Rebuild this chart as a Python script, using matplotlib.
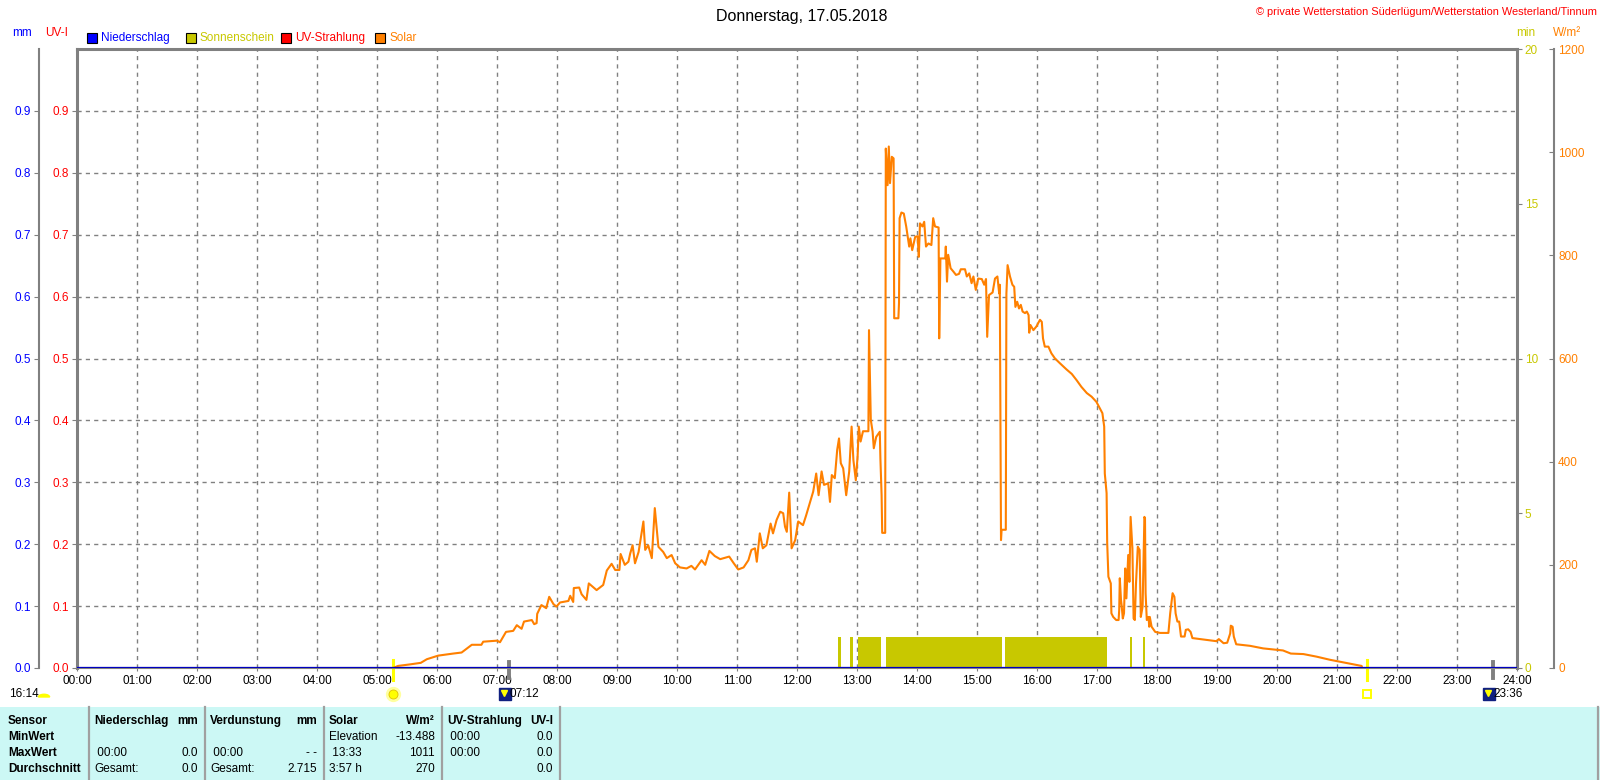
import numpy as np
import matplotlib.pyplot as plt
from matplotlib.patches import Rectangle, Wedge

plt.rcParams['font.family'] = ['Liberation Sans', 'DejaVu Sans']
plt.rcParams['font.size'] = 8.5

# --- data (time in hours) ---
solar_t = [5.27, 5.35, 5.55, 5.73, 5.83, 6.02, 6.27, 6.41, 6.58, 6.74, 6.77, 7.0, 7.05, 7.15, 7.27,
           7.33, 7.41, 7.45, 7.58, 7.62, 7.66, 7.67, 7.74, 7.82, 7.87, 7.94, 7.99, 8.05, 8.19, 8.22,
           8.27, 8.28, 8.37, 8.41, 8.49, 8.53, 8.66, 8.77, 8.83, 8.91, 8.97, 9.04, 9.06, 9.13, 9.19,
           9.22, 9.26, 9.30, 9.36, 9.44, 9.47, 9.52, 9.58, 9.63, 9.69, 9.77, 9.83, 9.91, 9.97, 10.05,
           10.16, 10.24, 10.30, 10.41, 10.47, 10.54, 10.63, 10.72, 10.87, 10.94, 11.02, 11.11, 11.19,
           11.24, 11.30, 11.33, 11.38, 11.43, 11.49, 11.56, 11.60, 11.66, 11.72, 11.77, 11.80, 11.83,
           11.87, 11.91, 11.97, 12.02, 12.10, 12.15, 12.22, 12.27, 12.32, 12.36, 12.41, 12.45, 12.52,
           12.55, 12.58, 12.63, 12.67, 12.70, 12.73, 12.77, 12.82, 12.87, 12.91, 12.94, 12.98, 13.01,
           13.03, 13.06, 13.10, 13.19, 13.20, 13.23, 13.26, 13.28, 13.32, 13.38, 13.39, 13.41, 13.42,
           13.47, 13.48, 13.51, 13.53, 13.55, 13.58, 13.61, 13.62, 13.69, 13.70, 13.71, 13.74, 13.78,
           13.82, 13.87, 13.89, 13.92, 13.97, 14.01, 14.03, 14.05, 14.09, 14.12, 14.15, 14.19, 14.24,
           14.27, 14.30, 14.36, 14.37, 14.39, 14.47, 14.48, 14.50, 14.52, 14.56, 14.61, 14.65, 14.70,
           14.73, 14.80, 14.83, 14.87, 14.91, 14.94, 14.98, 15.02, 15.08, 15.12, 15.15, 15.17, 15.20,
           15.26, 15.30, 15.34, 15.37, 15.38, 15.40, 15.41, 15.48, 15.49, 15.51, 15.55, 15.59, 15.62,
           15.64, 15.67, 15.70, 15.73, 15.76, 15.80, 15.83, 15.86, 15.87, 15.89, 15.94, 15.99, 16.05,
           16.08, 16.10, 16.13, 16.19, 16.24, 16.30, 16.38, 16.49, 16.58, 16.66, 16.74, 16.83, 16.91,
           16.99, 17.05, 17.09, 17.12, 17.13, 17.16, 17.17, 17.19, 17.23, 17.24, 17.27, 17.32, 17.36,
           17.37, 17.38, 17.40, 17.41, 17.43, 17.45, 17.47, 17.49, 17.52, 17.54, 17.56, 17.59, 17.61,
           17.63, 17.65, 17.68, 17.71, 17.73, 17.76, 17.79, 17.80, 17.81, 17.83, 17.86, 17.87, 17.88,
           17.91, 17.97, 18.05, 18.19, 18.22, 18.26, 18.29, 18.31, 18.34, 18.37, 18.40, 18.46, 18.48,
           18.52, 18.56, 18.59, 18.72, 18.99, 19.03, 19.11, 19.17, 19.22, 19.23, 19.26, 19.28, 19.32,
           19.55, 19.77, 20.10, 20.23, 20.44, 20.66, 20.88, 21.41, 21.42]
solar_w = [0, 4, 7, 10, 17, 24, 28, 30, 45, 45, 51, 53, 50, 70, 72,
           83, 76, 90, 93, 85, 87, 105, 122, 116, 138, 124, 119, 127, 130, 140,
           128, 155, 156, 143, 132, 164, 151, 161, 189, 202, 190, 190, 221, 200, 206,
           222, 238, 203, 225, 284, 229, 238, 213, 310, 235, 225, 213, 219, 203, 195,
           193, 198, 191, 209, 200, 227, 217, 211, 216, 204, 191, 195, 209,
           229, 232, 206, 261, 232, 238, 280, 261, 287, 303, 300, 274, 264,
           340, 232, 248, 284, 277, 295, 322, 342, 377, 335, 381, 355, 358,
           322, 374, 368, 423, 445, 397, 387, 335, 381, 468, 403, 364, 410,
           468, 439, 459, 459, 655, 481, 458, 426, 448, 458, 406, 335, 262,
           262, 1007, 936, 1011, 940, 991, 988, 678, 678, 708, 872, 883, 881,
           856, 817, 833, 810, 836, 837, 797, 862, 856, 865, 817, 823, 820,
           872, 856, 854, 639, 794, 794, 817, 749, 801, 775, 768, 762, 764,
           773, 773, 759, 765, 746, 759, 733, 755, 754, 743, 754, 642, 723,
           728, 755, 759, 726, 743, 248, 268, 268, 726, 781, 759, 743, 739,
           700, 710, 697, 704, 691, 688, 691, 684, 650, 665, 655, 662, 675,
           671, 639, 623, 623, 610, 600, 591, 579, 570, 558, 545, 533, 526,
           516, 503, 494, 468, 377, 339, 242, 177, 164, 106, 99, 93, 93,
           112, 174, 132, 122, 96, 106, 193, 135, 219, 167, 293, 232, 96,
           93, 164, 235, 229, 99, 119, 293, 290, 145, 93, 99, 80, 99,
           80, 70, 68, 68, 106, 145, 138, 106, 90, 90, 61, 61, 74,
           75, 70, 58, 56, 52, 56, 48, 49, 67, 82, 80, 61, 46,
           43, 38, 34, 28, 27, 22, 16, 4, 0]

sun_start = [12.68, 12.88, 13.01, 13.48, 15.47, 17.55, 17.76]
sun_end = [12.73, 12.93, 13.40, 15.41, 17.17, 17.59, 17.80]
sun_min = [1, 1, 1, 1, 1, 1, 1]

hour_labels = ['%02d:00' % h for h in range(25)]
mm_ticks = [0.0, 0.1, 0.2, 0.3, 0.4, 0.5, 0.6, 0.7, 0.8, 0.9]
min_ticks = [0, 5, 10, 15, 20]
w_ticks = [0, 200, 400, 600, 800, 1000, 1200]

sunrise, sunset = 5.27, 21.5
moonrise, moonset = 7.2, 23.6

legend_names = ['Niederschlag', 'Sonnenschein', 'UV-Strahlung', 'Solar']
legend_colors = ['#0000ff', '#c8c800', '#ff0000', '#ff8000']

row_names = ['Sensor', 'MinWert', 'MaxWert', 'Durchschnitt']
col_heads = ['Niederschlag', 'Verdunstung', 'Solar', 'UV-Strahlung']
col_units = ['mm', 'mm', 'W/m²', 'UV-I']
niederschlag_rows = [('', ''), (' 00:00', '0.0'), ('Gesamt:', '0.0')]
verdunstung_rows = [('', ''), (' 00:00', '- -'), ('Gesamt:', '2.715')]
solar_rows = [('Elevation', '-13.488'), (' 13:33', '1011'), ('3:57 h', '270')]
uv_rows = [(' 00:00', '0.0'), (' 00:00', '0.0'), ('', '0.0')]

W, H = 1600, 780
PT = 72 / 100  # points per pixel
GRAY = '#808080'
OLIVE = '#c8c800'
ORANGE = '#ff8000'


def fx(x):
    return x / W


def fy(y):
    return 1 - y / H


fig = plt.figure(figsize=(16, 7.8), dpi=100)
rect = [fx(77), fy(668), 1440 / W, 619 / H]
ax = fig.add_axes(rect)
ax.set_xlim(0, 24)
ax.set_ylim(0, 1)
ax.set_xticks(range(25))
ax.set_xticklabels(hour_labels)
ax.set_yticks(mm_ticks)
ax.set_yticklabels(['%.1f' % v for v in mm_ticks], color='#ff0000')
ax.tick_params(axis='y', length=5 * PT, color=GRAY, pad=2)
ax.tick_params(axis='x', length=3 * PT, color=GRAY, pad=3)
ax.grid(True, color=GRAY, linestyle=(0, (3, 3)), linewidth=1.0)
for s in ['top', 'left', 'right']:
    ax.spines[s].set_color(GRAY)
    ax.spines[s].set_linewidth(2.2)
ax.spines['bottom'].set_color(GRAY)
ax.spines['bottom'].set_linewidth(1.5)

# mm axis at far left
ax_mm = ax.twinx()
ax_mm.set_ylim(0, 1)
ax_mm.yaxis.set_ticks_position('left')
ax_mm.spines['left'].set_position(('outward', 38.5 * PT))
ax_mm.spines['left'].set_visible(True)
ax_mm.spines['left'].set_color(GRAY)
ax_mm.spines['left'].set_linewidth(1.5)
for s in ['top', 'right', 'bottom']:
    ax_mm.spines[s].set_visible(False)
ax_mm.set_yticks(mm_ticks)
ax_mm.set_yticklabels(['%.1f' % v for v in mm_ticks], color='#0000ff')
ax_mm.tick_params(axis='y', length=5 * PT, color=GRAY, pad=2)

# sunshine minutes
ax_min = ax.twinx()
ax_min.set_ylim(0, 20)
ax_min.bar(sun_start, sun_min, width=np.array(sun_end) - np.array(sun_start),
           align='edge', color=OLIVE, linewidth=0)
ax_min.set_yticks(min_ticks)
ax_min.set_yticklabels([str(v) for v in min_ticks], color=OLIVE)
ax_min.tick_params(axis='y', length=5 * PT, color=GRAY, pad=2)
for s in ['top', 'left', 'bottom', 'right']:
    ax_min.spines[s].set_visible(False)

# solar radiation
ax_w = ax.twinx()
ax_w.set_ylim(0, 1200)
ax_w.plot(solar_t, solar_w, color=ORANGE, linewidth=1.5)
ax_w.axhline(0, color='#0000c0', linewidth=1.6)
ax_w.spines['right'].set_position(('outward', 37 * PT))
ax_w.spines['right'].set_color(GRAY)
ax_w.spines['right'].set_linewidth(1.5)
for s in ['top', 'left', 'bottom']:
    ax_w.spines[s].set_visible(False)
ax_w.set_yticks(w_ticks)
ax_w.set_yticklabels([str(v) for v in w_ticks], color=ORANGE)
ax_w.tick_params(axis='y', direction='in', length=5 * PT, color=GRAY, pad=3)

# sun / moon events below axis
tr = ax.get_xaxis_transform()
for t in [sunrise, sunset]:
    ax.plot([t, t], [0.013, -0.019], color='#ffff00', linewidth=2.2, transform=tr, clip_on=False)
for t in [moonrise, moonset]:
    ax.plot([t, t], [0.01, -0.016], color=GRAY, linewidth=2.8, transform=tr, clip_on=False)
ev_y = -0.042
ax.plot([sunrise], [ev_y], marker='o', markersize=11, color='#ffffa0', transform=tr, clip_on=False,
        markeredgewidth=0)
ax.plot([sunrise], [ev_y], marker='o', markersize=6.5, color='#ffff00', transform=tr, clip_on=False,
        markeredgecolor='#e0c000', markeredgewidth=0.6)
ax.plot([sunset], [ev_y], marker='s', markersize=5.5, markerfacecolor='none', markeredgecolor='#ffff00',
        markeredgewidth=1.4, transform=tr, clip_on=False)
for t in [moonrise, moonset]:
    ax.plot([t - 0.07], [ev_y], marker='s', markersize=8, color='#102080', transform=tr, clip_on=False)
    ax.plot([t - 0.09], [ev_y + 0.002], marker='v', markersize=4.5, color='#ffff00', transform=tr,
            clip_on=False)
    ax.text(t + 0.01, ev_y, '%02d:%02d' % (int(t), round((t % 1) * 60)), transform=tr,
            ha='left', va='center', fontsize=8.5)
fig.text(fx(9), fy(694), '16:14', ha='left', va='center', fontsize=8.5)
fig.add_artist(Wedge((fx(44), fy(697)), 0.0035, 0, 180, color='#ffff00', transform=fig.transFigure))

# header texts
fig.text(fx(802), fy(16), 'Donnerstag, 17.05.2018', ha='center', va='center', fontsize=11.5)
fig.text(fx(1597), fy(12), '© private Wetterstation Süderlügum/Wetterstation Westerland/Tinnum',
         ha='right', va='center', fontsize=7.9, color='#ff0000')
fig.text(fx(22.5), fy(33), 'mm', ha='center', va='center', color='#0000ff')
fig.text(fx(57), fy(33), 'UV-I', ha='center', va='center', color='#ff0000')
fig.text(fx(1526), fy(33), 'min', ha='center', va='center', color=OLIVE)
fig.text(fx(1567), fy(33), 'W/m²', ha='center', va='center', color=ORANGE)

leg_x = [87, 186, 281, 375]
for x0, name, col in zip(leg_x, legend_names, legend_colors):
    fig.add_artist(Rectangle((fx(x0), fy(43)), 10 / W, 10 / H, facecolor=col, edgecolor='black',
                             linewidth=0.8, transform=fig.transFigure))
    fig.text(fx(x0 + 14), fy(38), name, ha='left', va='center', color=col)

# statistics table
fig.add_artist(Rectangle((0, 0), 1, fy(707), facecolor='#ccf8f5', edgecolor='none',
                         transform=fig.transFigure, zorder=0))
seps = [89, 205, 324, 442, 560]
for x0 in seps:
    fig.add_artist(plt.Line2D([fx(x0), fx(x0)], [fy(707), 0], color='#a0a0a0', linewidth=1.6))
fig.add_artist(plt.Line2D([fx(1598), fx(1598)], [fy(707), 0], color='#a0a0a0', linewidth=1.6))

row_y = [721, 737, 753, 769]
for name, y in zip(row_names, row_y):
    fig.text(fx(8), fy(y), name, ha='left', va='center', fontweight='bold')

col_rows = [niederschlag_rows, verdunstung_rows, solar_rows, uv_rows]
for i, (head, unit, rows) in enumerate(zip(col_heads, col_units, col_rows)):
    left = seps[i] + 5
    right = seps[i + 1] - 7
    fig.text(fx(left), fy(row_y[0]), head, ha='left', va='center', fontweight='bold')
    fig.text(fx(right), fy(row_y[0]), unit, ha='right', va='center', fontweight='bold')
    for (ltxt, rtxt), y in zip(rows, row_y[1:]):
        fig.text(fx(left), fy(y), ltxt, ha='left', va='center')
        fig.text(fx(right), fy(y), rtxt, ha='right', va='center')

fig.savefig('out.png', dpi=100)
